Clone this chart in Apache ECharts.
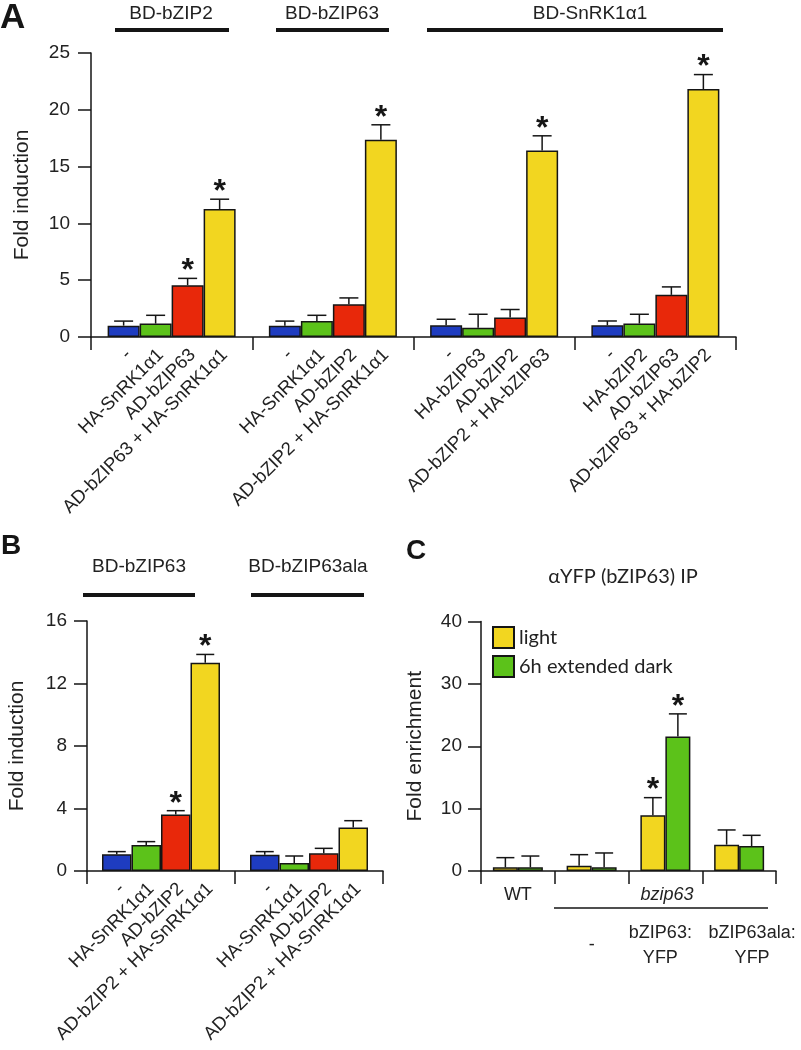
<!DOCTYPE html>
<html>
<head>
<meta charset="utf-8">
<script src="https://cdn.jsdelivr.net/npm/echarts@6/dist/echarts.min.js"></script>
<style>
  html, body { margin: 0; padding: 0; background: #fff; }
  #chart { width: 801px; height: 1050px; }
</style>
</head>
<body>
<div id="chart"></div>
<script>
// ---- panel A: fold induction, 4 constructs x 4 conditions
var groupsA = ['BD-bZIP2', 'BD-bZIP63', 'BD-SnRK1α1 a', 'BD-SnRK1α1 b'];
var aBlue = [1.0, 1.0, 1.03, 1.03];
var aGreen = [1.18, 1.41, 0.82, 1.18];
var aRed = [4.56, 2.88, 1.71, 3.71];
var aYellow = [11.27, 17.36, 16.42, 21.83];
var aBlueErr = [0.4, 0.4, 0.53, 0.38];
var aGreenErr = [0.73, 0.5, 1.18, 0.82];
var aRedErr = [0.6, 0.56, 0.71, 0.7];
var aYellowErr = [0.86, 1.32, 1.29, 1.27];
var aRedSig = [1, 0, 0, 0];
var aYellowSig = [1, 1, 1, 1];
var labelsA = [
    ['-', 'HA-SnRK1α1', 'AD-bZIP63', 'AD-bZIP63 + HA-SnRK1α1'],
    ['-', 'HA-SnRK1α1', 'AD-bZIP2', 'AD-bZIP2 + HA-SnRK1α1'],
    ['-', 'HA-bZIP63', 'AD-bZIP2', 'AD-bZIP2 + HA-bZIP63'],
    ['-', 'HA-bZIP2', 'AD-bZIP63', 'AD-bZIP63 + HA-bZIP2']
];

// ---- panel B
var groupsB = ['BD-bZIP63', 'BD-bZIP63ala'];
var bBlue = [1.07, 1.04];
var bGreen = [1.66, 0.51];
var bRed = [3.62, 1.13];
var bYellow = [13.33, 2.79];
var bBlueErr = [0.17, 0.2];
var bGreenErr = [0.22, 0.45];
var bRedErr = [0.24, 0.32];
var bYellowErr = [0.53, 0.43];
var bRedSig = [1, 0];
var bYellowSig = [1, 0];
var labelsB = [
    ['-', 'HA-SnRK1α1', 'AD-bZIP2', 'AD-bZIP2 + HA-SnRK1α1'],
    ['-', 'HA-SnRK1α1', 'AD-bZIP2', 'AD-bZIP2 + HA-SnRK1α1']
];

// ---- panel C: ChIP
var groupsC = ['WT', '-', 'bZIP63:\nYFP', 'bZIP63ala:\nYFP'];
var cLight = [0.59, 0.86, 8.93, 4.22];
var cDark = [0.59, 0.59, 21.55, 4.01];
var cLightErr = [1.55, 1.76, 2.83, 2.36];
var cDarkErr = [1.81, 2.3, 3.64, 1.71];
var cLightSig = [0, 0, 1, 0];
var cDarkSig = [0, 0, 1, 0];

var ticksA = { min: 0, max: 25, interval: 5 };
var ticksB = { min: 0, max: 16, interval: 4 };
var ticksC = { min: 0, max: 40, interval: 10 };

var COL = { blue: '#1e3cc0', green: '#5cc21a', red: '#e8280a', yellow: '#f2d620' };
var INK = '#151515';
var FONT = '"Liberation Sans", Arial, sans-serif';

function errItems(vals, errs, sigs) {
    var out = [];
    for (var s = 0; s < vals.length; s++) {
        for (var g = 0; g < vals[s].length; g++) {
            out.push([g, s, vals[s][g], errs[s][g], sigs[s] ? sigs[s][g] : 0]);
        }
    }
    return out;
}

// error bars, asterisks and rotated bar labels
function errSeries(idx, items, barW, n, capW, labels) {
    return {
        type: 'custom',
        xAxisIndex: idx,
        yAxisIndex: idx,
        data: items,
        encode: { x: 0, y: 2 },
        z: 5,
        clip: false,
        silent: true,
        renderItem: function (params, api) {
            var g = api.value(0), s = api.value(1), v = api.value(2), e = api.value(3), sig = api.value(4);
            var base = api.coord([g, 0]);
            var top = api.coord([g, v]);
            var tip = api.coord([g, v + e]);
            var x = base[0] + (s - (n - 1) / 2) * barW;
            var ls = { stroke: INK, lineWidth: 1.5 };
            var kids = [
                { type: 'line', shape: { x1: x, y1: top[1], x2: x, y2: tip[1] }, style: ls },
                { type: 'line', shape: { x1: x - capW / 2, y1: tip[1], x2: x + capW / 2, y2: tip[1] }, style: ls }
            ];
            if (sig) {
                kids.push({
                    type: 'text', x: x, y: tip[1] - 7,
                    style: { text: '*', fill: INK, font: 'bold 32px ' + FONT, align: 'center', verticalAlign: 'middle' }
                });
            }
            if (labels) {
                kids.push({
                    type: 'text', x: x + 5, y: base[1] + 15, rotation: Math.PI / 4,
                    style: { text: labels[g][s], fill: '#222', font: '18.5px ' + FONT, align: 'right', verticalAlign: 'middle' }
                });
            }
            return { type: 'group', children: kids };
        }
    };
}

function barSeries(idx, name, data, color, w) {
    return {
        type: 'bar',
        name: name,
        xAxisIndex: idx,
        yAxisIndex: idx,
        data: data,
        barWidth: w,
        barGap: '0%',
        silent: true,
        itemStyle: { color: color, borderColor: INK, borderWidth: 1.5 }
    };
}

function yAx(idx, t, name, gap, margin) {
    return {
        type: 'value', gridIndex: idx, min: t.min, max: t.max, interval: t.interval,
        name: name, nameLocation: 'middle', nameGap: gap,
        nameTextStyle: { fontFamily: FONT, fontSize: 21, color: '#222' },
        axisLine: { show: true, lineStyle: { color: INK, width: 1.5 } },
        axisTick: { show: true, length: 13, lineStyle: { color: INK, width: 1.5 } },
        axisLabel: { fontFamily: FONT, fontSize: 19, color: '#222', margin: margin },
        splitLine: { show: false }
    };
}

function xAx(idx, cats, labelOpt) {
    return {
        type: 'category', gridIndex: idx, data: cats,
        axisLine: { show: true, lineStyle: { color: INK, width: 1.5 } },
        axisTick: { show: true, length: 13, alignWithLabel: false, lineStyle: { color: INK, width: 1.5 } },
        axisLabel: labelOpt || { show: false },
        splitLine: { show: false }
    };
}

var barWA = 32, barWB = 29.5, barWC = 25;

var option = {
    animation: false,
    backgroundColor: '#fff',
    grid: [
        { left: 91, top: 53, width: 645, height: 284 },
        { left: 87, top: 621, width: 296, height: 250 },
        { left: 481, top: 621.5, width: 295, height: 249.5 }
    ],
    xAxis: [
        xAx(0, groupsA),
        xAx(1, groupsB),
        xAx(2, groupsC, {
            show: true, interval: 0, margin: 14, color: '#222', fontFamily: FONT, fontSize: 18,
            formatter: function (v, i) {
                if (i === 0) return '{w|' + v + '}';
                var parts = v.split('\n');
                if (parts.length === 1) return '{sp2| }\n{l|' + v + '}';
                var tag = i === 2 ? 'l3' : 'l4';
                return '{sp| }\n{' + tag + '|' + parts.join('}\n{' + tag + '|') + '}';
            },
            rich: {
                w: { fontFamily: FONT, fontSize: 18, color: '#222', lineHeight: 20 },
                sp: { fontSize: 10, height: 36, lineHeight: 36 },
                sp2: { fontSize: 10, height: 48, lineHeight: 48 },
                l: { fontFamily: FONT, fontSize: 18, color: '#222', lineHeight: 25 },
                l3: { fontFamily: FONT, fontSize: 18, color: '#222', lineHeight: 25, padding: [0, 10, 0, 0] },
                l4: { fontFamily: FONT, fontSize: 18, color: '#222', lineHeight: 25, padding: [0, 0, 0, 26] }
            }
        })
    ],
    yAxis: [
        yAx(0, ticksA, 'Fold induction', 58, 21),
        yAx(1, ticksB, 'Fold induction', 59, 20),
        yAx(2, ticksC, 'Fold enrichment', 55, 19)
    ],
    legend: {
        data: ['light', '6h extended dark'],
        left: 487, top: 621, orient: 'vertical', icon: 'rect',
        itemWidth: 21, itemHeight: 21, itemGap: 6,
        textStyle: { fontFamily: 'Lato, "Open Sans", sans-serif', fontSize: 20, color: '#222' },
        selectedMode: false
    },
    series: [
        barSeries(0, 'a-blue', aBlue, COL.blue, barWA),
        barSeries(0, 'a-green', aGreen, COL.green, barWA),
        barSeries(0, 'a-red', aRed, COL.red, barWA),
        barSeries(0, 'a-yellow', aYellow, COL.yellow, barWA),
        errSeries(0, errItems([aBlue, aGreen, aRed, aYellow], [aBlueErr, aGreenErr, aRedErr, aYellowErr], [null, null, aRedSig, aYellowSig]), barWA, 4, 19, labelsA),

        barSeries(1, 'b-blue', bBlue, COL.blue, barWB),
        barSeries(1, 'b-green', bGreen, COL.green, barWB),
        barSeries(1, 'b-red', bRed, COL.red, barWB),
        barSeries(1, 'b-yellow', bYellow, COL.yellow, barWB),
        errSeries(1, errItems([bBlue, bGreen, bRed, bYellow], [bBlueErr, bGreenErr, bRedErr, bYellowErr], [null, null, bRedSig, bYellowSig]), barWB, 4, 18, labelsB),

        barSeries(2, 'light', cLight, COL.yellow, barWC),
        barSeries(2, '6h extended dark', cDark, COL.green, barWC),
        errSeries(2, errItems([cLight, cDark], [cLightErr, cDarkErr], [cLightSig, cDarkSig]), barWC, 2, 18, null)
    ],
    graphic: [
        // panel letters
        { type: 'text', left: 0, top: 1, style: { text: 'A', font: 'bold 35px ' + FONT, fill: INK } },
        { type: 'text', left: 1, top: 532, style: { text: 'B', font: 'bold 28px ' + FONT, fill: INK } },
        { type: 'text', left: 406, top: 537, style: { text: 'C', font: 'bold 28px ' + FONT, fill: INK } },

        // panel A headers
        { type: 'text', x: 171, y: 14, style: { text: 'BD-bZIP2', font: '19px ' + FONT, fill: '#222', align: 'center', verticalAlign: 'middle' } },
        { type: 'line', shape: { x1: 115, y1: 30, x2: 229, y2: 30 }, style: { stroke: INK, lineWidth: 4 } },
        { type: 'text', x: 332, y: 14, style: { text: 'BD-bZIP63', font: '19px ' + FONT, fill: '#222', align: 'center', verticalAlign: 'middle' } },
        { type: 'line', shape: { x1: 276, y1: 30, x2: 389, y2: 30 }, style: { stroke: INK, lineWidth: 4 } },
        { type: 'text', x: 590, y: 14, style: { text: 'BD-SnRK1α1', font: '19px ' + FONT, fill: '#222', align: 'center', verticalAlign: 'middle' } },
        { type: 'line', shape: { x1: 427, y1: 30, x2: 723, y2: 30 }, style: { stroke: INK, lineWidth: 4 } },

        // panel B headers
        { type: 'text', x: 139, y: 567, style: { text: 'BD-bZIP63', font: '19px ' + FONT, fill: '#222', align: 'center', verticalAlign: 'middle' } },
        { type: 'line', shape: { x1: 83, y1: 595, x2: 195, y2: 595 }, style: { stroke: INK, lineWidth: 4 } },
        { type: 'text', x: 308, y: 567, style: { text: 'BD-bZIP63ala', font: '19px ' + FONT, fill: '#222', align: 'center', verticalAlign: 'middle' } },
        { type: 'line', shape: { x1: 251, y1: 595, x2: 364, y2: 595 }, style: { stroke: INK, lineWidth: 4 } },

        // panel C title and genotype bracket
        { type: 'text', x: 623, y: 577, style: { text: 'αYFP (bZIP63) IP', font: '20px Lato, "Open Sans", sans-serif', fill: '#222', align: 'center', verticalAlign: 'middle' } },
        { type: 'text', x: 667, y: 895, style: { text: 'bzip63', font: 'italic 18px ' + FONT, fill: '#222', align: 'center', verticalAlign: 'middle' } },
        { type: 'line', shape: { x1: 554, y1: 908, x2: 768, y2: 908 }, style: { stroke: INK, lineWidth: 1.5 } }
    ]
};

var chart = echarts.init(document.getElementById('chart'), null, { renderer: 'canvas' });
chart.setOption(option);
</script>
</body>
</html>
